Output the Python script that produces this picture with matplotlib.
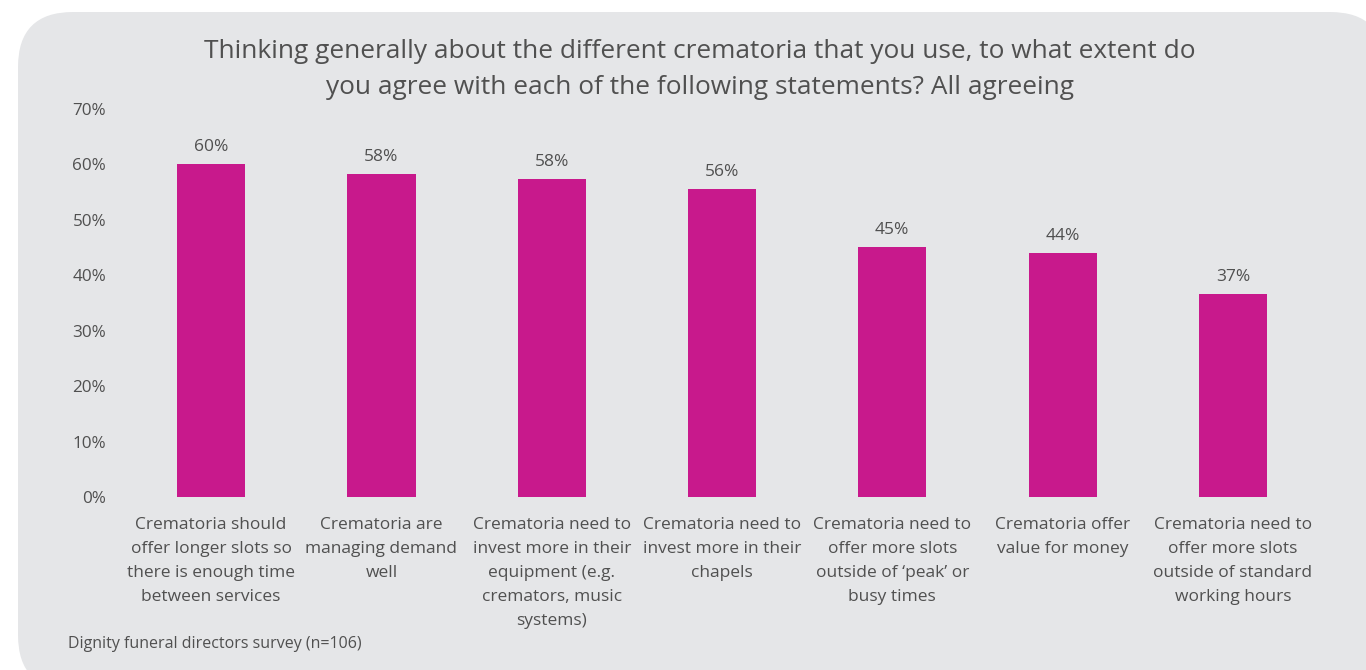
import matplotlib
matplotlib.use("Agg")
import matplotlib.pyplot as plt
from matplotlib.patches import FancyBboxPatch

categories = [
    "Crematoria should\noffer longer slots so\nthere is enough time\nbetween services",
    "Crematoria are\nmanaging demand\nwell",
    "Crematoria need to\ninvest more in their\nequipment (e.g.\ncremators, music\nsystems)",
    "Crematoria need to\ninvest more in their\nchapels",
    "Crematoria need to\noffer more slots\noutside of \u2018peak\u2019 or\nbusy times",
    "Crematoria offer\nvalue for money",
    "Crematoria need to\noffer more slots\noutside of standard\nworking hours",
]
values = [60.1, 58.3, 57.4, 55.5, 45.1, 44.0, 36.6]
value_labels = ["60%", "58%", "58%", "56%", "45%", "44%", "37%"]
yticks = [0, 10, 20, 30, 40, 50, 60, 70]
ytick_labels = ["0%", "10%", "20%", "30%", "40%", "50%", "60%", "70%"]
title = ("Thinking generally about the different crematoria that you use, to what extent do\n"
         "you agree with each of the following statements? All agreeing")
source = "Dignity funeral directors survey (n=106)"

plt.rcParams['font.family'] = ['Open Sans', 'DejaVu Sans']
TXT = "#505050"
BAR = "#C8198C"
PANEL = "#E5E6E8"

W, H = 1366, 670
fig = plt.figure(figsize=(W / 100, H / 100), dpi=100)
fig.patch.set_facecolor("white")

# background panel
bg = fig.add_axes([0, 0, 1, 1])
bg.set_xlim(0, W)
bg.set_ylim(H, 0)
bg.axis("off")
bg.add_patch(FancyBboxPatch((18, 12), 1385 - 18, 690 - 12,
                            boxstyle="round,pad=0,rounding_size=55",
                            facecolor=PANEL, edgecolor="none"))

ax = fig.add_axes([109 / W, (H - 497) / H, (1335 - 109) / W, (497 - 109) / H])
ax.set_facecolor("none")
x = list(range(len(categories)))
bars = ax.bar(x, values, width=0.4, color=BAR, zorder=2)
ax.set_xlim(-0.6, len(categories) - 0.4)
ax.set_ylim(0, 70)
ax.set_yticks(yticks)
ax.set_yticklabels(ytick_labels)
ax.set_xticks(x)
ax.set_xticklabels(categories, linespacing=1.66)
for s in ax.spines.values():
    s.set_visible(False)
ax.tick_params(axis="both", length=0, colors=TXT)
ax.tick_params(axis="y", labelsize=12.3, pad=2)
ax.tick_params(axis="x", labelsize=12.5, pad=14.5)
for lbl in ax.get_xticklabels():
    lbl.set_va("top")

for xi, v, t in zip(x, values, value_labels):
    ax.annotate(t, (xi, v), xytext=(0, 12.4), textcoords="offset points",
                ha="center", va="center", fontsize=12.5, color=TXT)

fig.text(699.5 / W, 1 - 69.5 / H, title, ha="center", va="center",
         fontsize=18.9, color=TXT, linespacing=1.56)
fig.text(68 / W, 1 - 644.5 / H, source, ha="left", va="center",
         fontsize=11.5, color=TXT)

fig.savefig("out.png", dpi=100, facecolor="white")
